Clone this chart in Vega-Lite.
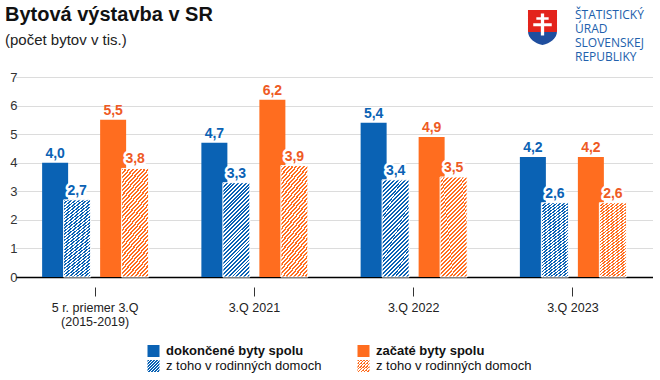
{
"$schema":"https://vega.github.io/schema/vega-lite/v6.json",
"width":628,"height":200,
"autosize":{"type":"none"},
"padding":{"left":24,"top":77,"right":8,"bottom":103},
"background":"white",
"config":{"font":"Liberation Sans","view":{"stroke":null},
 "locale":{"number":{"decimal":",","thousands":" ","grouping":[3],"currency":["","€"]}},
 "legend":{"orient":"none","title":null,"symbolType":"square","symbolSize":144,"symbolStrokeWidth":0,"symbolOpacity":1,"labelFontSize":13,"labelColor":"#111","labelOffset":6,"labelLimit":250}},
"title":{"text":"Bytová výstavba v SR","subtitle":"(počet bytov v tis.)","anchor":"start","frame":"group","dx":-19,"offset":0,"dy":55,"fontSize":20,"fontWeight":"bold","color":"#111","subtitleFontSize":15,"subtitleColor":"#222","subtitlePadding":7.5},
"resolve":{"scale":{"strokeDash":"independent"},"legend":{"strokeDash":"independent"}},
"data":{"values":[
{"period":"5 r. priemer 3.Q|(2015-2019)","series":"dokončené byty spolu","value":4.0},
{"period":"5 r. priemer 3.Q|(2015-2019)","series":"dokončené – z toho v rodinných domoch","value":2.7},
{"period":"5 r. priemer 3.Q|(2015-2019)","series":"začaté byty spolu","value":5.5},
{"period":"5 r. priemer 3.Q|(2015-2019)","series":"začaté – z toho v rodinných domoch","value":3.8},
{"period":"3.Q 2021","series":"dokončené byty spolu","value":4.7},
{"period":"3.Q 2021","series":"dokončené – z toho v rodinných domoch","value":3.3},
{"period":"3.Q 2021","series":"začaté byty spolu","value":6.2},
{"period":"3.Q 2021","series":"začaté – z toho v rodinných domoch","value":3.9},
{"period":"3.Q 2022","series":"dokončené byty spolu","value":5.4},
{"period":"3.Q 2022","series":"dokončené – z toho v rodinných domoch","value":3.4},
{"period":"3.Q 2022","series":"začaté byty spolu","value":4.9},
{"period":"3.Q 2022","series":"začaté – z toho v rodinných domoch","value":3.5},
{"period":"3.Q 2023","series":"dokončené byty spolu","value":4.2},
{"period":"3.Q 2023","series":"dokončené – z toho v rodinných domoch","value":2.6},
{"period":"3.Q 2023","series":"začaté byty spolu","value":4.2},
{"period":"3.Q 2023","series":"začaté – z toho v rodinných domoch","value":2.6}
]},
"encoding":{
 "x":{"field":"period","type":"nominal","sort":["5 r. priemer 3.Q|(2015-2019)","3.Q 2021","3.Q 2022","3.Q 2023"],
  "scale":{"range":[-8.5,628.5],"paddingInner":0,"paddingOuter":0},
  "axis":{"title":null,"domain":false,"grid":false,"ticks":true,"tickSize":9,"tickColor":"#333","tickWidth":1,"offset":10,"labelPadding":5,"labelAngle":0,"labelFontSize":12.5,"labelColor":"#222","labelExpr":"split(datum.label,'|')","labelLineHeight":14}},
 "y":{"field":"value","type":"quantitative","scale":{"domain":[0,7]},
  "axis":{"title":null,"values":[0,1,2,3,4,5,6,7],"domain":false,"ticks":false,"labelPadding":7,"labelFontSize":13,"labelColor":"#333",
   "gridColor":{"condition":{"test":"datum.value === 0","value":"#000"},"value":"#dcdcdc"},
   "gridWidth":{"condition":{"test":"datum.value === 0","value":1.5},"value":1}}}
},
"layer":[
{"transform":[{"filter":{"field":"series","equal":"dokončené byty spolu"}}],
 "mark":{"type":"bar","width":26,"xOffset":-40,"fill":"#0A62B4"}},
{"transform":[{"filter":{"field":"series","equal":"dokončené – z toho v rodinných domoch"}}],
 "mark":{"type":"bar","width":27,"xOffset":-18,"stroke":"#fff","strokeWidth":1,
  "fill":{"gradient":"linear","x1":0,"y1":0,"x2":0.34,"y2":1.19,"stops":[
{"offset":0,"color":"#0A62B4"},{"offset":0.015625,"color":"#0A62B4"},{"offset":0.015625,"color":"#fff"},{"offset":0.03125,"color":"#fff"},
{"offset":0.03125,"color":"#0A62B4"},{"offset":0.046875,"color":"#0A62B4"},{"offset":0.046875,"color":"#fff"},{"offset":0.0625,"color":"#fff"},
{"offset":0.0625,"color":"#0A62B4"},{"offset":0.078125,"color":"#0A62B4"},{"offset":0.078125,"color":"#fff"},{"offset":0.09375,"color":"#fff"},
{"offset":0.09375,"color":"#0A62B4"},{"offset":0.109375,"color":"#0A62B4"},{"offset":0.109375,"color":"#fff"},{"offset":0.125,"color":"#fff"},
{"offset":0.125,"color":"#0A62B4"},{"offset":0.140625,"color":"#0A62B4"},{"offset":0.140625,"color":"#fff"},{"offset":0.15625,"color":"#fff"},
{"offset":0.15625,"color":"#0A62B4"},{"offset":0.171875,"color":"#0A62B4"},{"offset":0.171875,"color":"#fff"},{"offset":0.1875,"color":"#fff"},
{"offset":0.1875,"color":"#0A62B4"},{"offset":0.203125,"color":"#0A62B4"},{"offset":0.203125,"color":"#fff"},{"offset":0.21875,"color":"#fff"},
{"offset":0.21875,"color":"#0A62B4"},{"offset":0.234375,"color":"#0A62B4"},{"offset":0.234375,"color":"#fff"},{"offset":0.25,"color":"#fff"},
{"offset":0.25,"color":"#0A62B4"},{"offset":0.265625,"color":"#0A62B4"},{"offset":0.265625,"color":"#fff"},{"offset":0.28125,"color":"#fff"},
{"offset":0.28125,"color":"#0A62B4"},{"offset":0.296875,"color":"#0A62B4"},{"offset":0.296875,"color":"#fff"},{"offset":0.3125,"color":"#fff"},
{"offset":0.3125,"color":"#0A62B4"},{"offset":0.328125,"color":"#0A62B4"},{"offset":0.328125,"color":"#fff"},{"offset":0.34375,"color":"#fff"},
{"offset":0.34375,"color":"#0A62B4"},{"offset":0.359375,"color":"#0A62B4"},{"offset":0.359375,"color":"#fff"},{"offset":0.375,"color":"#fff"},
{"offset":0.375,"color":"#0A62B4"},{"offset":0.390625,"color":"#0A62B4"},{"offset":0.390625,"color":"#fff"},{"offset":0.40625,"color":"#fff"},
{"offset":0.40625,"color":"#0A62B4"},{"offset":0.421875,"color":"#0A62B4"},{"offset":0.421875,"color":"#fff"},{"offset":0.4375,"color":"#fff"},
{"offset":0.4375,"color":"#0A62B4"},{"offset":0.453125,"color":"#0A62B4"},{"offset":0.453125,"color":"#fff"},{"offset":0.46875,"color":"#fff"},
{"offset":0.46875,"color":"#0A62B4"},{"offset":0.484375,"color":"#0A62B4"},{"offset":0.484375,"color":"#fff"},{"offset":0.5,"color":"#fff"},
{"offset":0.5,"color":"#0A62B4"},{"offset":0.515625,"color":"#0A62B4"},{"offset":0.515625,"color":"#fff"},{"offset":0.53125,"color":"#fff"},
{"offset":0.53125,"color":"#0A62B4"},{"offset":0.546875,"color":"#0A62B4"},{"offset":0.546875,"color":"#fff"},{"offset":0.5625,"color":"#fff"},
{"offset":0.5625,"color":"#0A62B4"},{"offset":0.578125,"color":"#0A62B4"},{"offset":0.578125,"color":"#fff"},{"offset":0.59375,"color":"#fff"},
{"offset":0.59375,"color":"#0A62B4"},{"offset":0.609375,"color":"#0A62B4"},{"offset":0.609375,"color":"#fff"},{"offset":0.625,"color":"#fff"},
{"offset":0.625,"color":"#0A62B4"},{"offset":0.640625,"color":"#0A62B4"},{"offset":0.640625,"color":"#fff"},{"offset":0.65625,"color":"#fff"},
{"offset":0.65625,"color":"#0A62B4"},{"offset":0.671875,"color":"#0A62B4"},{"offset":0.671875,"color":"#fff"},{"offset":0.6875,"color":"#fff"},
{"offset":0.6875,"color":"#0A62B4"},{"offset":0.703125,"color":"#0A62B4"},{"offset":0.703125,"color":"#fff"},{"offset":0.71875,"color":"#fff"},
{"offset":0.71875,"color":"#0A62B4"},{"offset":0.734375,"color":"#0A62B4"},{"offset":0.734375,"color":"#fff"},{"offset":0.75,"color":"#fff"},
{"offset":0.75,"color":"#0A62B4"},{"offset":0.765625,"color":"#0A62B4"},{"offset":0.765625,"color":"#fff"},{"offset":0.78125,"color":"#fff"},
{"offset":0.78125,"color":"#0A62B4"},{"offset":0.796875,"color":"#0A62B4"},{"offset":0.796875,"color":"#fff"},{"offset":0.8125,"color":"#fff"},
{"offset":0.8125,"color":"#0A62B4"},{"offset":0.828125,"color":"#0A62B4"},{"offset":0.828125,"color":"#fff"},{"offset":0.84375,"color":"#fff"},
{"offset":0.84375,"color":"#0A62B4"},{"offset":0.859375,"color":"#0A62B4"},{"offset":0.859375,"color":"#fff"},{"offset":0.875,"color":"#fff"},
{"offset":0.875,"color":"#0A62B4"},{"offset":0.890625,"color":"#0A62B4"},{"offset":0.890625,"color":"#fff"},{"offset":0.90625,"color":"#fff"},
{"offset":0.90625,"color":"#0A62B4"},{"offset":0.921875,"color":"#0A62B4"},{"offset":0.921875,"color":"#fff"},{"offset":0.9375,"color":"#fff"},
{"offset":0.9375,"color":"#0A62B4"},{"offset":0.953125,"color":"#0A62B4"},{"offset":0.953125,"color":"#fff"},{"offset":0.96875,"color":"#fff"},
{"offset":0.96875,"color":"#0A62B4"},{"offset":0.984375,"color":"#0A62B4"},{"offset":0.984375,"color":"#fff"},{"offset":1,"color":"#fff"}
]}}},
{"transform":[{"filter":{"field":"series","equal":"začaté byty spolu"}}],
 "mark":{"type":"bar","width":26,"xOffset":18,"fill":"#FF6D1F"}},
{"transform":[{"filter":{"field":"series","equal":"začaté – z toho v rodinných domoch"}}],
 "mark":{"type":"bar","width":27,"xOffset":40,"stroke":"#fff","strokeWidth":1,
  "fill":{"gradient":"linear","x1":0,"y1":0,"x2":0.34,"y2":1.19,"stops":[
{"offset":0,"color":"#FF6D1F"},{"offset":0.015625,"color":"#FF6D1F"},{"offset":0.015625,"color":"#fff"},{"offset":0.03125,"color":"#fff"},
{"offset":0.03125,"color":"#FF6D1F"},{"offset":0.046875,"color":"#FF6D1F"},{"offset":0.046875,"color":"#fff"},{"offset":0.0625,"color":"#fff"},
{"offset":0.0625,"color":"#FF6D1F"},{"offset":0.078125,"color":"#FF6D1F"},{"offset":0.078125,"color":"#fff"},{"offset":0.09375,"color":"#fff"},
{"offset":0.09375,"color":"#FF6D1F"},{"offset":0.109375,"color":"#FF6D1F"},{"offset":0.109375,"color":"#fff"},{"offset":0.125,"color":"#fff"},
{"offset":0.125,"color":"#FF6D1F"},{"offset":0.140625,"color":"#FF6D1F"},{"offset":0.140625,"color":"#fff"},{"offset":0.15625,"color":"#fff"},
{"offset":0.15625,"color":"#FF6D1F"},{"offset":0.171875,"color":"#FF6D1F"},{"offset":0.171875,"color":"#fff"},{"offset":0.1875,"color":"#fff"},
{"offset":0.1875,"color":"#FF6D1F"},{"offset":0.203125,"color":"#FF6D1F"},{"offset":0.203125,"color":"#fff"},{"offset":0.21875,"color":"#fff"},
{"offset":0.21875,"color":"#FF6D1F"},{"offset":0.234375,"color":"#FF6D1F"},{"offset":0.234375,"color":"#fff"},{"offset":0.25,"color":"#fff"},
{"offset":0.25,"color":"#FF6D1F"},{"offset":0.265625,"color":"#FF6D1F"},{"offset":0.265625,"color":"#fff"},{"offset":0.28125,"color":"#fff"},
{"offset":0.28125,"color":"#FF6D1F"},{"offset":0.296875,"color":"#FF6D1F"},{"offset":0.296875,"color":"#fff"},{"offset":0.3125,"color":"#fff"},
{"offset":0.3125,"color":"#FF6D1F"},{"offset":0.328125,"color":"#FF6D1F"},{"offset":0.328125,"color":"#fff"},{"offset":0.34375,"color":"#fff"},
{"offset":0.34375,"color":"#FF6D1F"},{"offset":0.359375,"color":"#FF6D1F"},{"offset":0.359375,"color":"#fff"},{"offset":0.375,"color":"#fff"},
{"offset":0.375,"color":"#FF6D1F"},{"offset":0.390625,"color":"#FF6D1F"},{"offset":0.390625,"color":"#fff"},{"offset":0.40625,"color":"#fff"},
{"offset":0.40625,"color":"#FF6D1F"},{"offset":0.421875,"color":"#FF6D1F"},{"offset":0.421875,"color":"#fff"},{"offset":0.4375,"color":"#fff"},
{"offset":0.4375,"color":"#FF6D1F"},{"offset":0.453125,"color":"#FF6D1F"},{"offset":0.453125,"color":"#fff"},{"offset":0.46875,"color":"#fff"},
{"offset":0.46875,"color":"#FF6D1F"},{"offset":0.484375,"color":"#FF6D1F"},{"offset":0.484375,"color":"#fff"},{"offset":0.5,"color":"#fff"},
{"offset":0.5,"color":"#FF6D1F"},{"offset":0.515625,"color":"#FF6D1F"},{"offset":0.515625,"color":"#fff"},{"offset":0.53125,"color":"#fff"},
{"offset":0.53125,"color":"#FF6D1F"},{"offset":0.546875,"color":"#FF6D1F"},{"offset":0.546875,"color":"#fff"},{"offset":0.5625,"color":"#fff"},
{"offset":0.5625,"color":"#FF6D1F"},{"offset":0.578125,"color":"#FF6D1F"},{"offset":0.578125,"color":"#fff"},{"offset":0.59375,"color":"#fff"},
{"offset":0.59375,"color":"#FF6D1F"},{"offset":0.609375,"color":"#FF6D1F"},{"offset":0.609375,"color":"#fff"},{"offset":0.625,"color":"#fff"},
{"offset":0.625,"color":"#FF6D1F"},{"offset":0.640625,"color":"#FF6D1F"},{"offset":0.640625,"color":"#fff"},{"offset":0.65625,"color":"#fff"},
{"offset":0.65625,"color":"#FF6D1F"},{"offset":0.671875,"color":"#FF6D1F"},{"offset":0.671875,"color":"#fff"},{"offset":0.6875,"color":"#fff"},
{"offset":0.6875,"color":"#FF6D1F"},{"offset":0.703125,"color":"#FF6D1F"},{"offset":0.703125,"color":"#fff"},{"offset":0.71875,"color":"#fff"},
{"offset":0.71875,"color":"#FF6D1F"},{"offset":0.734375,"color":"#FF6D1F"},{"offset":0.734375,"color":"#fff"},{"offset":0.75,"color":"#fff"},
{"offset":0.75,"color":"#FF6D1F"},{"offset":0.765625,"color":"#FF6D1F"},{"offset":0.765625,"color":"#fff"},{"offset":0.78125,"color":"#fff"},
{"offset":0.78125,"color":"#FF6D1F"},{"offset":0.796875,"color":"#FF6D1F"},{"offset":0.796875,"color":"#fff"},{"offset":0.8125,"color":"#fff"},
{"offset":0.8125,"color":"#FF6D1F"},{"offset":0.828125,"color":"#FF6D1F"},{"offset":0.828125,"color":"#fff"},{"offset":0.84375,"color":"#fff"},
{"offset":0.84375,"color":"#FF6D1F"},{"offset":0.859375,"color":"#FF6D1F"},{"offset":0.859375,"color":"#fff"},{"offset":0.875,"color":"#fff"},
{"offset":0.875,"color":"#FF6D1F"},{"offset":0.890625,"color":"#FF6D1F"},{"offset":0.890625,"color":"#fff"},{"offset":0.90625,"color":"#fff"},
{"offset":0.90625,"color":"#FF6D1F"},{"offset":0.921875,"color":"#FF6D1F"},{"offset":0.921875,"color":"#fff"},{"offset":0.9375,"color":"#fff"},
{"offset":0.9375,"color":"#FF6D1F"},{"offset":0.953125,"color":"#FF6D1F"},{"offset":0.953125,"color":"#fff"},{"offset":0.96875,"color":"#fff"},
{"offset":0.96875,"color":"#FF6D1F"},{"offset":0.984375,"color":"#FF6D1F"},{"offset":0.984375,"color":"#fff"},{"offset":1,"color":"#fff"}
]}}},
{"transform":[{"filter":{"field":"series","equal":"dokončené byty spolu"}}],
 "mark":{"type":"text","xOffset":-40,"dy":-5,"baseline":"alphabetic","fontSize":14,"fontWeight":"bold","fill":"#0A62B4"},
 "encoding":{"text":{"field":"value","type":"quantitative","format":".1f"}}},
{"transform":[{"filter":{"field":"series","equal":"začaté byty spolu"}}],
 "mark":{"type":"text","xOffset":18,"dy":-5,"baseline":"alphabetic","fontSize":14,"fontWeight":"bold","fill":"#EE5A24"},
 "encoding":{"text":{"field":"value","type":"quantitative","format":".1f"}}},
{"transform":[{"filter":{"field":"series","equal":"dokončené – z toho v rodinných domoch"}}],
 "mark":{"type":"text","xOffset":-18,"dy":-5,"baseline":"alphabetic","fontSize":14,"fontWeight":"bold","fill":"#fff","stroke":"#fff","strokeWidth":5,"strokeJoin":"round"},
 "encoding":{"text":{"field":"value","type":"quantitative","format":".1f"}}},
{"transform":[{"filter":{"field":"series","equal":"dokončené – z toho v rodinných domoch"}}],
 "mark":{"type":"text","xOffset":-18,"dy":-5,"baseline":"alphabetic","fontSize":14,"fontWeight":"bold","fill":"#0A62B4"},
 "encoding":{"text":{"field":"value","type":"quantitative","format":".1f"}}},
{"transform":[{"filter":{"field":"series","equal":"začaté – z toho v rodinných domoch"}}],
 "mark":{"type":"text","xOffset":40,"dy":-5,"baseline":"alphabetic","fontSize":14,"fontWeight":"bold","fill":"#fff","stroke":"#fff","strokeWidth":5,"strokeJoin":"round"},
 "encoding":{"text":{"field":"value","type":"quantitative","format":".1f"}}},
{"transform":[{"filter":{"field":"series","equal":"začaté – z toho v rodinných domoch"}}],
 "mark":{"type":"text","xOffset":40,"dy":-5,"baseline":"alphabetic","fontSize":14,"fontWeight":"bold","fill":"#EE5A24"},
 "encoding":{"text":{"field":"value","type":"quantitative","format":".1f"}}},
{"mark":{"type":"point","shape":"square","filled":true,"opacity":0,"fill":"#0A62B4"},
 "encoding":{"fill":{"datum":"dokončené byty spolu","type":"nominal","scale":{"range":["#0A62B4"]},
  "legend":{"legendX":123,"legendY":267.5,"labelFontWeight":"bold"}}}},
{"mark":{"type":"point","shape":"square","filled":true,"opacity":0,"fill":"#FF6D1F"},
 "encoding":{"stroke":{"datum":"začaté byty spolu","type":"nominal","scale":{"range":["#FF6D1F"]},
  "legend":{"legendX":333,"legendY":267.5,"labelFontWeight":"bold","symbolFillColor":"#FF6D1F"}}}},
{"mark":{"type":"point","shape":"square","filled":true,"opacity":0,
  "fill":{"gradient":"linear","x1":0,"y1":0,"x2":1,"y2":1,"stops":[
{"offset":0,"color":"#0A62B4"},{"offset":0.0625,"color":"#0A62B4"},{"offset":0.0625,"color":"#fff"},{"offset":0.125,"color":"#fff"},
{"offset":0.125,"color":"#0A62B4"},{"offset":0.1875,"color":"#0A62B4"},{"offset":0.1875,"color":"#fff"},{"offset":0.25,"color":"#fff"},
{"offset":0.25,"color":"#0A62B4"},{"offset":0.3125,"color":"#0A62B4"},{"offset":0.3125,"color":"#fff"},{"offset":0.375,"color":"#fff"},
{"offset":0.375,"color":"#0A62B4"},{"offset":0.4375,"color":"#0A62B4"},{"offset":0.4375,"color":"#fff"},{"offset":0.5,"color":"#fff"},
{"offset":0.5,"color":"#0A62B4"},{"offset":0.5625,"color":"#0A62B4"},{"offset":0.5625,"color":"#fff"},{"offset":0.625,"color":"#fff"},
{"offset":0.625,"color":"#0A62B4"},{"offset":0.6875,"color":"#0A62B4"},{"offset":0.6875,"color":"#fff"},{"offset":0.75,"color":"#fff"},
{"offset":0.75,"color":"#0A62B4"},{"offset":0.8125,"color":"#0A62B4"},{"offset":0.8125,"color":"#fff"},{"offset":0.875,"color":"#fff"},
{"offset":0.875,"color":"#0A62B4"},{"offset":0.9375,"color":"#0A62B4"},{"offset":0.9375,"color":"#fff"},{"offset":1,"color":"#fff"}]}},
 "encoding":{"strokeDash":{"datum":"dokončené – z toho v rodinných domoch","type":"nominal","scale":{"range":[[1,0]]},
  "legend":{"legendX":123,"legendY":282.5,"labelExpr":"'z toho v rodinných domoch'"}}}},
{"mark":{"type":"point","shape":"square","filled":true,"opacity":0,
  "fill":{"gradient":"linear","x1":0,"y1":0,"x2":1,"y2":1,"stops":[
{"offset":0,"color":"#FF6D1F"},{"offset":0.0625,"color":"#FF6D1F"},{"offset":0.0625,"color":"#fff"},{"offset":0.125,"color":"#fff"},
{"offset":0.125,"color":"#FF6D1F"},{"offset":0.1875,"color":"#FF6D1F"},{"offset":0.1875,"color":"#fff"},{"offset":0.25,"color":"#fff"},
{"offset":0.25,"color":"#FF6D1F"},{"offset":0.3125,"color":"#FF6D1F"},{"offset":0.3125,"color":"#fff"},{"offset":0.375,"color":"#fff"},
{"offset":0.375,"color":"#FF6D1F"},{"offset":0.4375,"color":"#FF6D1F"},{"offset":0.4375,"color":"#fff"},{"offset":0.5,"color":"#fff"},
{"offset":0.5,"color":"#FF6D1F"},{"offset":0.5625,"color":"#FF6D1F"},{"offset":0.5625,"color":"#fff"},{"offset":0.625,"color":"#fff"},
{"offset":0.625,"color":"#FF6D1F"},{"offset":0.6875,"color":"#FF6D1F"},{"offset":0.6875,"color":"#fff"},{"offset":0.75,"color":"#fff"},
{"offset":0.75,"color":"#FF6D1F"},{"offset":0.8125,"color":"#FF6D1F"},{"offset":0.8125,"color":"#fff"},{"offset":0.875,"color":"#fff"},
{"offset":0.875,"color":"#FF6D1F"},{"offset":0.9375,"color":"#FF6D1F"},{"offset":0.9375,"color":"#fff"},{"offset":1,"color":"#fff"}]}},
 "encoding":{"strokeDash":{"datum":"začaté – z toho v rodinných domoch","type":"nominal","scale":{"range":[[1,0]]},
  "legend":{"legendX":333,"legendY":282.5,"labelExpr":"'z toho v rodinných domoch'"}}}},
{"mark":{"type":"point","filled":true,"opacity":0,
  "fill":{"gradient":"linear","x1":0,"y1":0,"x2":0,"y2":1,"stops":[{"offset":0,"color":"#E3231B"},{"offset":0.64,"color":"#E3231B"},{"offset":0.64,"color":"#1F4E9E"},{"offset":1,"color":"#1F4E9E"}]}},
 "encoding":{"shape":{"datum":"ŠTATISTICKÝ ÚRAD SLOVENSKEJ REPUBLIKY","type":"nominal",
  "scale":{"range":["M-0.66,-0.2L0.66,-0.2L0.66,0.75C0.66,1.1 0.35,1.3 0,1.39C-0.35,1.3 -0.66,1.1 -0.66,0.75ZM-0.075,-0.05L-0.075,0.12L-0.28,0.12L-0.28,0.24L-0.075,0.24L-0.075,0.4L-0.42,0.4L-0.42,0.53L-0.075,0.53L-0.075,0.95L0.075,0.95L0.075,0.53L0.42,0.53L0.42,0.4L0.075,0.4L0.075,0.24L0.28,0.24L0.28,0.12L0.075,0.12L0.075,-0.05Z"]},
  "legend":{"legendX":496.5,"legendY":-84.5,"symbolSize":1936,"symbolType":null,
   "labelExpr":"split(datum.label,' ')","labelFont":"Open Sans","labelFontSize":12,"labelColor":"#2160AC","labelOffset":10.5,"labelLimit":200}}}}
]
}
